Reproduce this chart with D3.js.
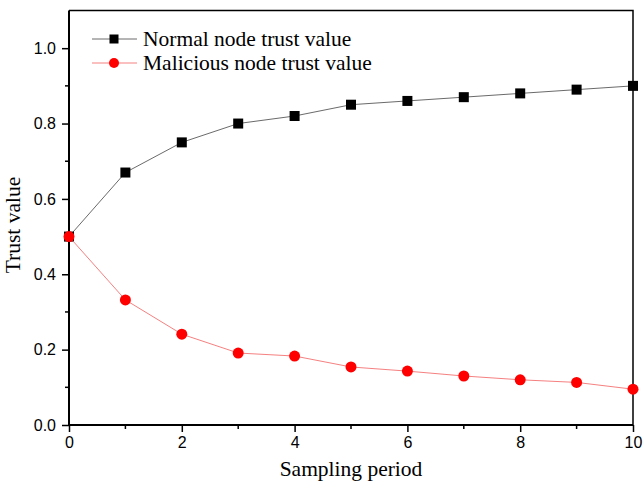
<!DOCTYPE html>
<html>
<head>
<meta charset="utf-8">
<script src="https://cdn.jsdelivr.net/npm/d3@7"></script>
<style>
  body { margin: 0; background: #fff; }
  svg { display: block; }
</style>
</head>
<body>
<svg id="chart" width="644" height="486"></svg>
<script>
(function () {
    'use strict';

    // sampling periods and the two trust series
    var periods = [0, 1, 2, 3, 4, 5, 6, 7, 8, 9, 10];
    var normalTrust = [0.5, 0.67, 0.75, 0.80, 0.82, 0.85, 0.86, 0.87, 0.88, 0.89, 0.90];
    var maliciousTrust = [0.5, 0.332, 0.241, 0.191, 0.183, 0.154, 0.143, 0.13, 0.12, 0.113, 0.095];
    var seriesNames = ["Normal node trust value", "Malicious node trust value"];
    var xTicks = [0, 2, 4, 6, 8, 10];
    var yTicks = [0.0, 0.2, 0.4, 0.6, 0.8, 1.0];

    var left = 69, right = 633, top = 10.5, bottom = 425;
    var svg = d3.select("#chart");

    var x = d3.scaleLinear().domain([0, 10]).range([left, right]);
    var y = d3.scaleLinear().domain([0, 1.1]).range([bottom, top]);

    // frame (top and right)
    svg.append("path")
        .attr("d", "M" + left + "," + top + "H" + right + "V" + bottom)
        .attr("fill", "none")
        .attr("stroke", "#000")
        .attr("stroke-width", 1.5);

    // bottom axis
    var xAxis = svg.append("g")
        .attr("transform", "translate(0," + bottom + ")")
        .call(d3.axisBottom(x).tickValues(xTicks).tickFormat(d3.format("d")).tickSizeInner(7).tickSizeOuter(0).tickPadding(5));
    xAxis.append("g").selectAll("line")
        .data([1, 3, 5, 7, 9])
        .enter()
        .append("line")
        .attr("x1", function (d) { return x(d); })
        .attr("x2", function (d) { return x(d); })
        .attr("y1", 0)
        .attr("y2", 4)
        .attr("stroke", "#000")
        .attr("stroke-width", 1.5);

    // left axis
    var yAxis = svg.append("g")
        .attr("transform", "translate(" + left + ",0)")
        .call(d3.axisLeft(y).tickValues(yTicks).tickFormat(d3.format(".1f")).tickSizeInner(7).tickSizeOuter(0).tickPadding(6));
    yAxis.append("g").selectAll("line")
        .data([0.1, 0.3, 0.5, 0.7, 0.9])
        .enter()
        .append("line")
        .attr("y1", function (d) { return y(d); })
        .attr("y2", function (d) { return y(d); })
        .attr("x1", 0)
        .attr("x2", -4)
        .attr("stroke", "#000")
        .attr("stroke-width", 1.5);

    svg.selectAll(".domain").attr("stroke-width", 2);
    xAxis.select(".domain").attr("d", "M" + (left - 1) + ",0H" + right);
    yAxis.select(".domain").attr("d", "M0," + top + "V" + (bottom + 1));
    svg.selectAll(".tick line").attr("stroke-width", 1.5);
    svg.selectAll(".tick text")
        .style("font-family", "'Liberation Sans', Arial, sans-serif")
        .style("font-size", "16px")
        .attr("fill", "#000");

    // axis titles
    svg.append("text")
        .attr("x", (left + right) / 2)
        .attr("y", 476)
        .attr("text-anchor", "middle")
        .style("font-family", "'Liberation Serif', 'Times New Roman', serif")
        .style("font-size", "21.5px")
        .text("Sampling period");
    svg.append("text")
        .attr("transform", "translate(20,225) rotate(-90)")
        .attr("text-anchor", "middle")
        .style("font-family", "'Liberation Serif', 'Times New Roman', serif")
        .style("font-size", "21.5px")
        .text("Trust value");

    var line = d3.line()
        .x(function (d, i) { return x(periods[i]); })
        .y(function (d) { return y(d); });

    // normal series
    svg.append("path")
        .datum(normalTrust)
        .attr("d", line)
        .attr("fill", "none")
        .attr("stroke", "#444")
        .attr("stroke-width", 0.8);
    svg.append("g").selectAll("rect")
        .data(normalTrust)
        .enter()
        .append("rect")
        .attr("x", function (d, i) { return x(periods[i]) - 5; })
        .attr("y", function (d) { return y(d) - 5; })
        .attr("width", 10)
        .attr("height", 10)
        .attr("fill", "#000");

    // malicious series
    svg.append("path")
        .datum(maliciousTrust)
        .attr("d", line)
        .attr("fill", "none")
        .attr("stroke", "#f26060")
        .attr("stroke-width", 0.8);
    svg.append("g").selectAll("circle")
        .data(maliciousTrust)
        .enter()
        .append("circle")
        .attr("cx", function (d, i) { return x(periods[i]); })
        .attr("cy", function (d) { return y(d); })
        .attr("r", 5.5)
        .attr("fill", "#ff0000");

    // legend
    var legend = svg.append("g");
    var rows = legend.selectAll("g")
        .data(seriesNames)
        .enter()
        .append("g")
        .attr("transform", function (d, i) { return "translate(0," + (39 + i * 24) + ")"; });
    rows.append("line")
        .attr("x1", 92)
        .attr("x2", 137)
        .attr("stroke", function (d, i) { return i === 0 ? "#444" : "#f26060"; })
        .attr("stroke-width", 0.8);
    rows.filter(function (d, i) { return i === 0; })
        .append("rect")
        .attr("x", 109.5)
        .attr("y", -4.5)
        .attr("width", 9)
        .attr("height", 9)
        .attr("fill", "#000");
    rows.filter(function (d, i) { return i === 1; })
        .append("circle")
        .attr("cx", 114)
        .attr("r", 5)
        .attr("fill", "#ff0000");
    rows.append("text")
        .attr("x", 143)
        .attr("y", 7)
        .style("font-family", "'Liberation Serif', 'Times New Roman', serif")
        .style("font-size", "21.5px")
        .text(function (d) { return d; });
}());
</script>
</body>
</html>
